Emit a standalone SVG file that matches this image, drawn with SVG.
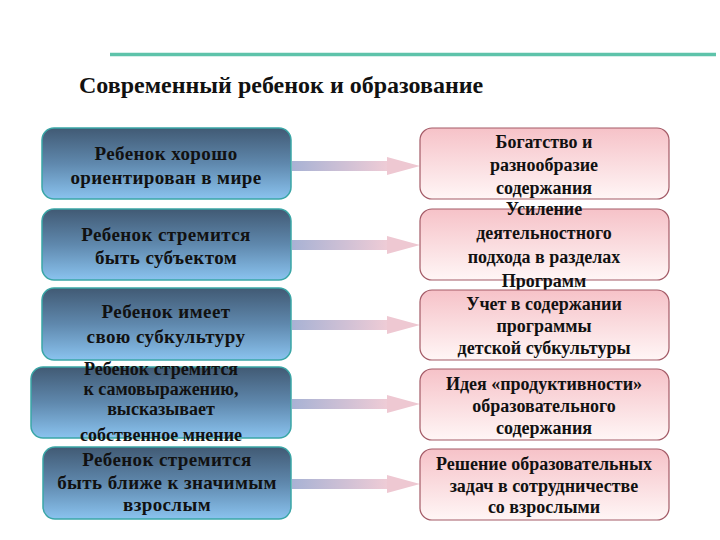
<svg xmlns="http://www.w3.org/2000/svg" width="720" height="540" viewBox="0 0 720 540">
  <defs>
    <linearGradient id="gl" x1="0" y1="0" x2="0" y2="1">
      <stop offset="0" stop-color="#415a74"/>
      <stop offset="0.5" stop-color="#5f88ad"/>
      <stop offset="1" stop-color="#8ac3ef"/>
    </linearGradient>
    <linearGradient id="gr" x1="0" y1="0" x2="0" y2="1">
      <stop offset="0" stop-color="#f6c2c8"/>
      <stop offset="1" stop-color="#fff6f6"/>
    </linearGradient>
    <linearGradient id="ga" x1="0" y1="0" x2="1" y2="0">
      <stop offset="0" stop-color="#a8b2d4"/>
      <stop offset="1" stop-color="#f2cdd6"/>
    </linearGradient>
    <g id="arrow">
      <rect x="0" y="-5" width="100" height="10" fill="url(#ga)"/>
      <polygon points="95,-9 128,0 95,9" fill="#eec8d2"/>
    </g>
  </defs>
  <style>
    .l { fill: url(#gl); stroke: #3aa6a6; stroke-width: 1.5; }
    .r { fill: url(#gr); stroke: #a35a66; stroke-width: 1.2; }
    text { font-family: "Liberation Serif", "Times New Roman", serif; font-weight: bold; fill: #111; text-anchor: middle; }
    .t { font-size: 18px; }
    .tl { font-size: 19px; letter-spacing: 0.4px; }
    .title { font-size: 24px; text-anchor: start; }
  </style>
  <line x1="110" y1="54.5" x2="716" y2="54.5" stroke="#5ec3aa" stroke-width="3.5"/>
  <text class="title" x="79" y="93">Современный ребенок и образование</text>

  <g id="connectors">
    <use href="#arrow" x="292" y="166"/>
    <use href="#arrow" x="292" y="245"/>
    <use href="#arrow" x="292" y="325"/>
    <use href="#arrow" x="292" y="404"/>
    <use href="#arrow" x="292" y="484"/>
  </g>

  <g id="l1"><rect class="l" x="42" y="128" width="249" height="71" rx="12"/>
    <text class="tl" x="166" y="160">Ребенок хорошо</text>
    <text class="tl" x="166" y="184">ориентирован в мире</text></g>
  <g id="l2"><rect class="l" x="42" y="209" width="249" height="71" rx="12"/>
    <text class="tl" x="166" y="241">Ребенок стремится</text>
    <text class="tl" x="166" y="264">быть субъектом</text></g>
  <g id="l3"><rect class="l" x="42" y="288" width="249" height="72" rx="12"/>
    <text class="tl" x="166" y="318">Ребенок имеет</text>
    <text class="tl" x="166" y="343">свою субкультуру</text></g>
  <g id="l4"><rect class="l" x="31" y="367" width="260" height="71" rx="12"/>
    <text class="t" x="161" y="375">Ребенок стремится</text>
    <text class="t" x="161" y="395">к самовыражению,</text>
    <text class="t" x="161" y="415">высказывает</text>
    <text class="t" x="161" y="441">собственное мнение</text></g>
  <g id="l5"><rect class="l" x="43" y="447" width="248" height="72" rx="12"/>
    <text class="tl" x="167" y="466">Ребенок стремится</text>
    <text class="tl" x="167" y="489">быть ближе к значимым</text>
    <text class="tl" x="167" y="511">взрослым</text></g>

  <g id="r1"><rect class="r" x="420" y="128" width="249" height="71" rx="12"/>
    <text class="t" x="544" y="148">Богатство и</text>
    <text class="t" x="544" y="171">разнообразие</text>
    <text class="t" x="544" y="194">содержания</text></g>
  <g id="r2"><rect class="r" x="420" y="209" width="249" height="71" rx="12"/>
    <text class="t" x="544" y="215">Усиление</text>
    <text class="t" x="544" y="239">деятельностного</text>
    <text class="t" x="544" y="263">подхода в разделах</text>
    <text class="t" x="544" y="287">Программ</text></g>
  <g id="r3"><rect class="r" x="420" y="290" width="249" height="70" rx="12"/>
    <text class="t" x="544" y="310">Учет в содержании</text>
    <text class="t" x="544" y="332">программы</text>
    <text class="t" x="544" y="354">детской субкультуры</text></g>
  <g id="r4"><rect class="r" x="420" y="369" width="249" height="71" rx="12"/>
    <text class="t" x="544" y="390">Идея «продуктивности»</text>
    <text class="t" x="544" y="412">образовательного</text>
    <text class="t" x="544" y="434">содержания</text></g>
  <g id="r5"><rect class="r" x="420" y="449" width="249" height="71" rx="12"/>
    <text class="t" x="544" y="470">Решение образовательных</text>
    <text class="t" x="544" y="492">задач в сотрудничестве</text>
    <text class="t" x="544" y="513">со взрослыми</text></g>
</svg>
